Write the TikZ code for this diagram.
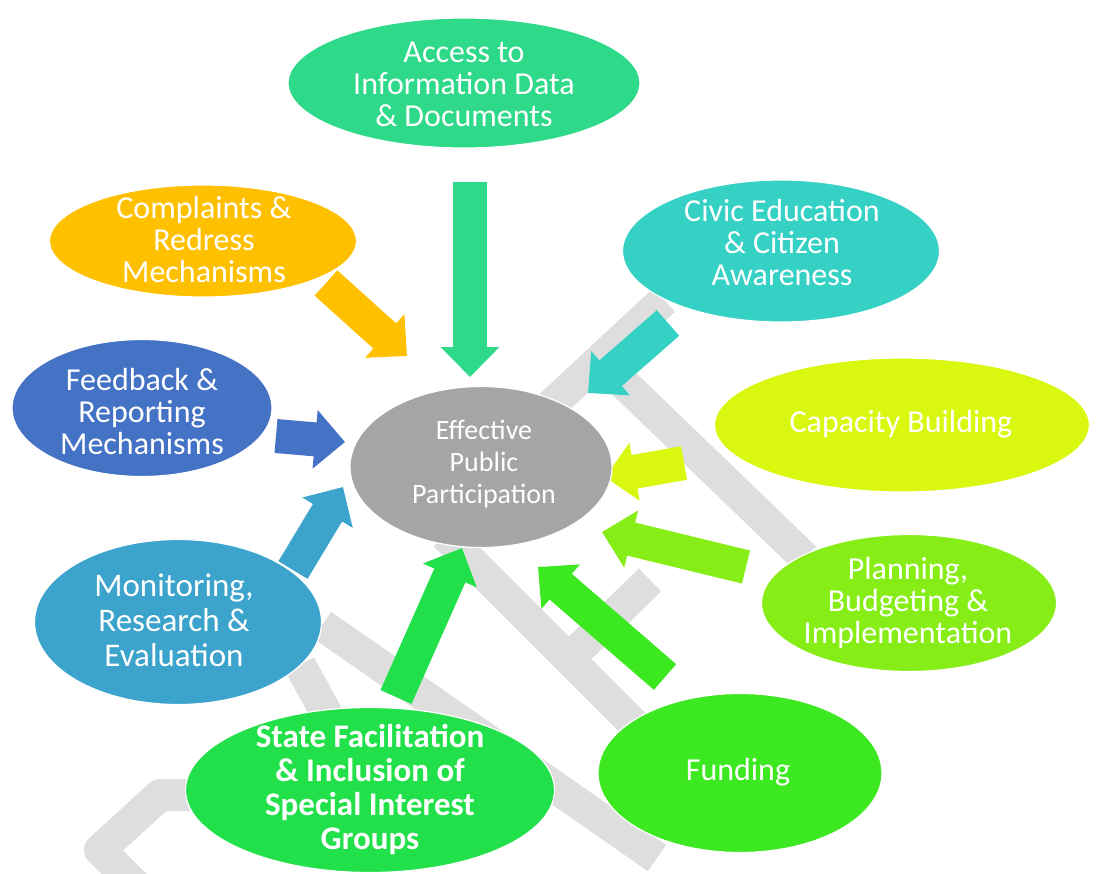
\documentclass[tikz,border=0pt]{standalone}
\usepackage{fontspec}
\setmainfont{Carlito}
\usepackage{xcolor}
\usetikzlibrary{positioning,shapes.geometric,arrows.meta}
\definecolor{accesscol}{RGB}{46,217,138}
\definecolor{civiccol}{RGB}{53,209,197}
\definecolor{complaintcol}{RGB}{255,192,0}
\definecolor{feedbackcol}{RGB}{68,114,196}
\definecolor{centrecol}{RGB}{165,165,165}
\definecolor{capacitycol}{RGB}{218,247,15}
\definecolor{planningcol}{RGB}{134,238,22}
\definecolor{fundingcol}{RGB}{60,232,31}
\definecolor{statecol}{RGB}{34,224,74}
\definecolor{monitorcol}{RGB}{60,163,204}
\definecolor{markcol}{RGB}{222,222,222}

\begin{document}
\begin{tikzpicture}[x=1pt,y=-1pt,
          bubble/.style={ellipse, draw=white, line width=1.2pt, inner sep=0pt},
          bubbletext/.style={text=white, align=center, font=\fontsize{32}{32}\selectfont},
          blockarrow/.style={line width=34pt, -{Triangle[length=30pt, width=57pt]}},
          watermark/.style={draw=markcol, line width=32pt, line join=round}]
          \useasboundingbox (0,0) rectangle (1097,873);

          % Faint watermark strokes behind everything
          \draw[watermark] (548,408) -- (664,300);
          \draw[watermark] (612,372) -- (805,558);
          \draw[watermark] (445,535) -- (645,735);
          \draw[watermark] (580,648) -- (650,580);
          \draw[watermark] (322,625) -- (657,858);
          \draw[watermark] (300,665) -- (330,720);
          \draw[watermark] (205,795) -- (160,795) -- (100,850) -- (135,885);

          % Arrow ends
          \coordinate (access-tail) at (470,182);  \coordinate (access-tip) at (470,377);
          \coordinate (complaint-tail) at (326,283); \coordinate (complaint-tip) at (407,356);
          \coordinate (civic-tail) at (668,323);   \coordinate (civic-tip) at (588,393);
          \coordinate (feedback-tail) at (276,436); \coordinate (feedback-tip) at (345,442);
          \coordinate (capacity-tail) at (684,463); \coordinate (capacity-tip) at (605,477);
          \coordinate (planning-tail) at (746,567); \coordinate (planning-tip) at (602,532);
          \coordinate (funding-tail) at (665,677);  \coordinate (funding-tip) at (538,567);
          \coordinate (state-tail) at (396,697);    \coordinate (state-tip) at (462,548);
          \coordinate (monitor-tail) at (293,570);  \coordinate (monitor-tip) at (343,487);

          % Block arrows pointing at the centre
          \draw[blockarrow, accesscol] (access-tail) -- (access-tip);
          \draw[blockarrow, complaintcol] (complaint-tail) -- (complaint-tip);
          \draw[blockarrow, civiccol] (civic-tail) -- (civic-tip);
          \draw[blockarrow, feedbackcol] (feedback-tail) -- (feedback-tip);
          \draw[blockarrow, capacitycol] (capacity-tail) -- (capacity-tip);
          \draw[blockarrow, planningcol] (planning-tail) -- (planning-tip);
          \draw[blockarrow, fundingcol] (funding-tail) -- (funding-tip);
          \draw[blockarrow, statecol] (state-tail) -- (state-tip);
          \draw[blockarrow, monitorcol] (monitor-tail) -- (monitor-tip);

          % The ellipses
          \node (centre)    [bubble, fill=centrecol, minimum width=262pt, minimum height=161pt] at (481,467) {};
          \node (access)    [bubble, fill=accesscol, minimum width=352pt, minimum height=130pt] at (464,83) {};
          \node (civic)     [bubble, fill=civiccol, minimum width=317pt, minimum height=142pt] at (781,251) {};
          \node (complaint) [bubble, fill=complaintcol, minimum width=307pt, minimum height=112pt] at (203,241) {};
          \node (feedback)  [bubble, fill=feedbackcol, minimum width=260pt, minimum height=137pt] at (142,408) {};
          \node (capacity)  [bubble, fill=capacitycol, minimum width=375pt, minimum height=134pt] at (902,425) {};
          \node (planning)  [bubble, fill=planningcol, minimum width=295pt, minimum height=137pt] at (909,603) {};
          \node (monitor)   [bubble, fill=monitorcol, minimum width=287pt, minimum height=165pt] at (178,622) {};
          \node (state)     [bubble, fill=statecol, minimum width=369pt, minimum height=165pt] at (370,790) {};
          \node (funding)   [bubble, fill=fundingcol, minimum width=284pt, minimum height=159pt] at (740,773) {};

          % Their texts
          \node (centre-t)    [bubbletext, font=\fontsize{28}{32}\selectfont] at (484,464) {Effective\\Public\\Participation};
          \node (access-t)    [bubbletext] at (464,84) {Access to\\Information Data\\\& Documents};
          \node (civic-t)     [bubbletext] at (782,243) {Civic Education\\\& Citizen\\Awareness};
          \node (complaint-t) [bubbletext] at (204,240) {Complaints \&\\Redress\\Mechanisms};
          \node (feedback-t)  [bubbletext] at (142,411) {Feedback \&\\Reporting\\Mechanisms};
          \node (capacity-t)  [bubbletext] at (901,424) {Capacity Building};
          \node (planning-t)  [bubbletext] at (908,603) {Planning,\\Budgeting \&\\Implementation};
          \node (monitor-t)   [bubbletext, font=\fontsize{33}{35}\selectfont] at (174,620) {Monitoring,\\Research \&\\Evaluation};
          \node (state-t)     [bubbletext, font=\fontsize{33}{34}\selectfont\bfseries] at (370,789) {State Facilitation\\\& Inclusion of\\Special Interest\\Groups};
          \node (funding-t)   [bubbletext] at (738,772) {Funding};
\end{tikzpicture}
\end{document}
